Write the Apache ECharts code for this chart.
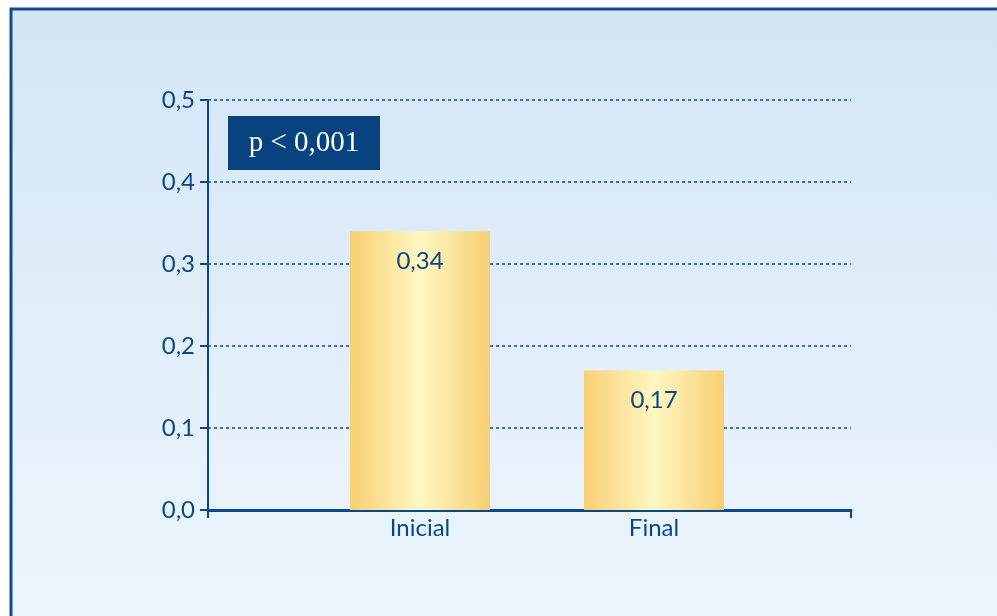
<!DOCTYPE html>
<html>
<head>
<meta charset="utf-8">
<script src="https://cdn.jsdelivr.net/npm/echarts@6/dist/echarts.min.js"></script>
<style>
html,body{margin:0;padding:0;background:#ffffff;}
#chart{width:997px;height:616px;}
</style>
</head>
<body>
<div id="chart"></div>
<script>
const categories = ['Inicial', 'Final'];
const values = [0.34, 0.17];
const yTicks = [0, 0.1, 0.2, 0.3, 0.4, 0.5];
const pText = 'p < 0,001';

const navy = '#0b4788';
const fam = 'Lato';
const fmt = v => v.toFixed(1).replace('.', ',');
const fmt2 = v => v.toFixed(2).replace('.', ',');

const chart = echarts.init(document.getElementById('chart'));
const barGrad = new echarts.graphic.LinearGradient(0, 0, 1, 0, [
  {offset: 0, color: '#f8cf73'},
  {offset: 0.5, color: '#fff7c2'},
  {offset: 1, color: '#f8cf73'}
]);

chart.setOption({
  animation: false,
  graphic: [
    {
      type: 'rect', z: -10, silent: true,
      shape: {x: 11, y: 9, width: 1100, height: 700},
      style: {
        fill: new echarts.graphic.LinearGradient(0, 0, 0, 1, [
          {offset: 0, color: '#d3e5f5'},
          {offset: 1, color: '#f1f8fe'}
        ]),
        stroke: '#0f4c8e', lineWidth: 3
      }
    },
    {
      type: 'rect', z: 10,
      shape: {x: 228, y: 116, width: 152, height: 54},
      style: {fill: '#08437f'}
    },
    {
      type: 'text', z: 11,
      x: 304, y: 143,
      style: {
        text: pText, fill: '#ffffff',
        font: '29px "Liberation Serif", "DejaVu Serif", serif',
        align: 'center', verticalAlign: 'middle'
      }
    }
  ],
  grid: [
    {left: 208, right: 146, top: 100, bottom: 106},
    {left: 303, right: 226, top: 100, bottom: 106}
  ],
  xAxis: [
    {
      type: 'value', gridIndex: 0, min: 0, max: 1, interval: 1,
      axisLine: {show: true, lineStyle: {color: navy, width: 3}},
      axisTick: {show: true, length: 8, lineStyle: {color: navy, width: 2}},
      axisLabel: {show: false},
      splitLine: {show: false}
    },
    {
      type: 'category', gridIndex: 1, data: categories,
      axisLine: {show: false},
      axisTick: {show: false},
      axisLabel: {color: navy, fontSize: 24, margin: 6, fontFamily: fam}
    }
  ],
  yAxis: [
    {
      type: 'value', gridIndex: 0, min: 0, max: 0.5, interval: 0.1,
      axisLine: {show: true, lineStyle: {color: navy, width: 2}},
      axisTick: {show: true, length: 8, lineStyle: {color: navy, width: 2}},
      axisLabel: {color: navy, fontSize: 24, margin: 13, fontFamily: fam, formatter: v => fmt(v)},
      splitLine: {show: true, lineStyle: {color: navy, type: [3, 3], width: 1.5}}
    },
    {
      type: 'value', gridIndex: 1, min: 0, max: 0.5, interval: 0.1,
      show: false, splitLine: {show: false}
    }
  ],
  series: [
    {
      type: 'bar', xAxisIndex: 1, yAxisIndex: 1,
      data: values, barWidth: 140, z: 5,
      itemStyle: {color: barGrad},
      label: {
        show: true, position: 'insideTop', distance: 18,
        color: navy, fontSize: 24, fontFamily: fam,
        formatter: p => fmt2(p.value)
      }
    }
  ]
});
</script>
</body>
</html>
